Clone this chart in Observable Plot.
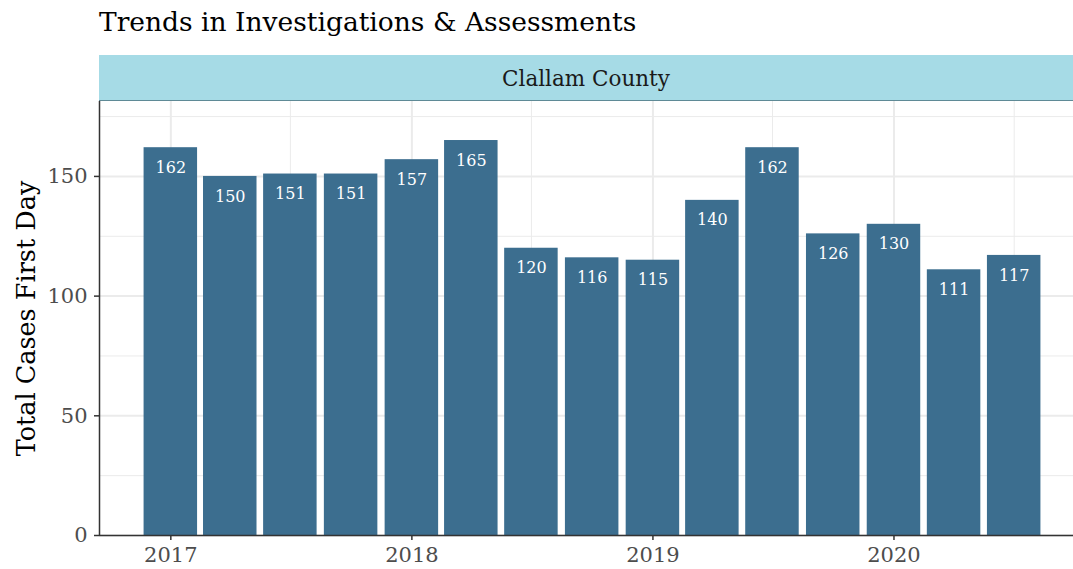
<!DOCTYPE html>
<html><head><meta charset="utf-8">
<script src="https://cdn.jsdelivr.net/npm/d3@7"></script>
<script src="https://cdn.jsdelivr.net/npm/@observablehq/plot@0.6"></script>
<style>
html,body{margin:0;padding:0;background:#fff;overflow:hidden;width:1073px;height:569px;}
#wrap{position:relative;width:1073px;height:569px;overflow:hidden;font-family:"DejaVu Serif",serif;}
#title{position:absolute;left:99px;top:6px;font-size:26.5px;color:#000;white-space:nowrap;}
#strip{position:absolute;left:99px;top:55px;width:990px;height:45px;background:#a6dbe6;border-bottom:1px solid #5f8a96;}
#strip span{position:absolute;left:0;width:974px;text-align:center;top:11px;font-size:21.5px;color:#1a1a1a;}
#chart{position:absolute;left:0;top:101px;}
#chart svg{overflow:visible;max-width:none;}
</style></head>
<body><div id="wrap">
<div id="title">Trends in Investigations &amp; Assessments</div>
<div id="strip"><span>Clallam County</span></div>
<div id="chart"></div>
</div>
<script>
const quarters = ["2017-01-01","2017-04-01","2017-07-01","2017-10-01","2018-01-01","2018-04-01","2018-07-01","2018-10-01","2019-01-01","2019-04-01","2019-07-01","2019-10-01","2020-01-01","2020-04-01","2020-07-01"];
const totals = [162,150,151,151,157,165,120,116,115,140,162,126,130,111,117];
const yearTicks = ["2017-01-01","2018-01-01","2019-01-01","2020-01-01"];
const halfYearTicks = ["2017-07-01","2018-07-01","2019-07-01","2020-07-01"];
const yMajor = [0,50,100,150];
const yMinor = [25,75,125,175];

const DAY = 86400000;
const parse = s => new Date(s + "T00:00:00Z");
const data = quarters.map((q,i) => ({date: parse(q), value: totals[i]}));
const halfWidth = 40.5 * DAY;
const xDomain = [new Date(parse(quarters[0]) - 108*DAY), new Date(+parse(quarters[quarters.length-1]) + 108*DAY)];

const font = "DejaVu Serif";
const chart = Plot.plot({
  width: 1085, height: 468,
  marginTop: 0, marginBottom: 34, marginLeft: 99, marginRight: 0,
  style: {fontFamily: font, background: "#fff", maxWidth: "none", overflow: "visible"},
  x: {type: "utc", domain: xDomain},
  y: {domain: [0, 181.3]},
  marks: [
    Plot.gridX(halfYearTicks.map(parse), {stroke: "#ebebeb", strokeOpacity: 1, strokeWidth: 1}),
    Plot.gridX(yearTicks.map(parse), {stroke: "#ebebeb", strokeOpacity: 1, strokeWidth: 2}),
    Plot.gridY(yMinor, {stroke: "#ebebeb", strokeOpacity: 1, strokeWidth: 1}),
    Plot.gridY(yMajor, {stroke: "#ebebeb", strokeOpacity: 1, strokeWidth: 2}),
    Plot.rectY(data, {x1: d => new Date(+d.date - halfWidth), x2: d => new Date(+d.date + halfWidth), y: "value", fill: "#3c6e8f"}),
    Plot.text(data, {x: "date", y: "value", text: d => String(d.value), fill: "#fff", dy: 20, fontSize: 16, lineAnchor: "middle"}),
    Plot.axisX(yearTicks.map(parse), {tickFormat: d3.utcFormat("%Y"), tickSize: 5, tickPadding: 7, fontSize: 21, stroke: "#333", strokeWidth: 1.5, fill: "#4d4d4d", label: null}),
    Plot.axisY(yMajor, {tickSize: 5, tickPadding: 7, fontSize: 21, stroke: "#333", strokeWidth: 1.5, fill: "#4d4d4d", label: null}),
    Plot.ruleY([0], {stroke: "#333", strokeWidth: 1.5}),
    Plot.ruleX([xDomain[0]], {stroke: "#333", strokeWidth: 1.5}),
    Plot.text(["Total Cases First Day"], {frameAnchor: "left", textAnchor: "middle", dx: -73, rotate: -90, fontSize: 25.5, fill: "#000", text: d => d})
  ]
});
document.getElementById("chart").appendChild(chart);
</script>
</body></html>
